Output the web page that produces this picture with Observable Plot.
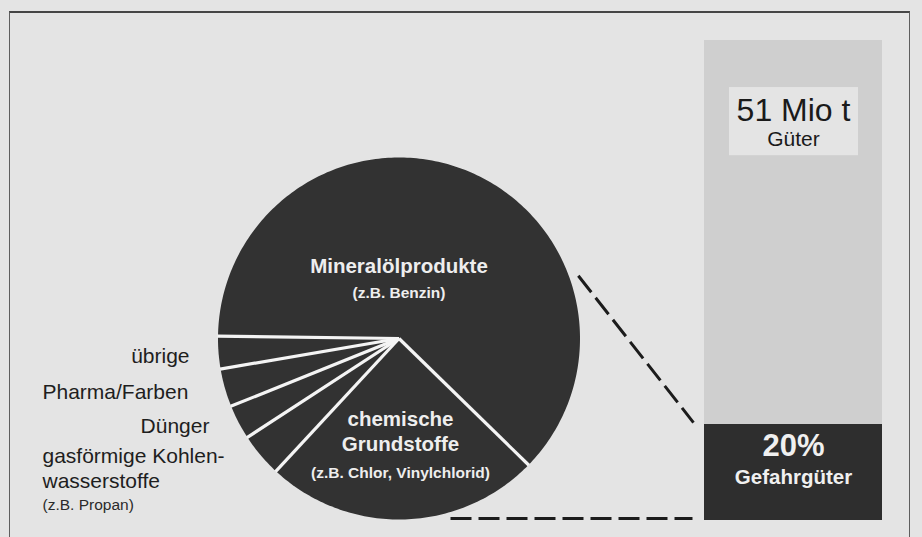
<!DOCTYPE html>
<html><head><meta charset="utf-8">
<script src="https://cdn.jsdelivr.net/npm/d3@7"></script>
<script src="https://cdn.jsdelivr.net/npm/@observablehq/plot@0.6"></script>
<style>
html,body{margin:0;padding:0;background:#e4e4e4;}
#wrap{position:relative;width:922px;height:537px;overflow:hidden;background:#e4e4e4;}
#frame{position:absolute;left:9px;top:11px;width:899px;height:600px;border-top:2px solid #454545;border-left:1.5px solid #5e5e5e;border-right:1.5px solid #5e5e5e;}
#chart{position:absolute;left:0;top:0;}
</style></head><body>
<div id="wrap"><div id="frame"></div><div id="chart"></div></div>
<script>
// ---------- DATA ----------
const cargoCategories = ["chemische Grundstoffe", "gasförmige Kohlenwasserstoffe", "Dünger", "Pharma/Farben", "übrige", "Mineralölprodukte"];
const cargoShares = [24.6, 3.9, 3.1, 3.4, 2.9, 62.1];   // % der Gefahrgüter
const cargoLabels = ["chemische\nGrundstoffe", "gasförmige Kohlen-\nwasserstoffe", "Dünger", "Pharma/Farben", "übrige", "Mineralölprodukte"];
const cargoNotes  = ["(z.B. Chlor, Vinylchlorid)", "(z.B. Propan)", "", "", "", "(z.B. Benzin)"];
const goodsParts  = ["Gefahrgüter", "übrige Güter"];
const goodsShares = [20, 80];       // % of all goods
const goodsTotal  = 51;             // Mio t
const goodsUnit   = "Mio t";
const goodsTitle  = "Güter";

// ---------- LAYOUT (pixels) ----------
const PX = 4.8, BASE = 520;                     // 1 unit = 1 % of the bar
const ux = p => p / PX, uy = p => (BASE - p) / PX;
const pie = {cx: 398.5, cy: 338, r: 181, start: 44.3};
const bar = {x1: 704, x2: 882};
const outsideAlign = {"gasförmige Kohlenwasserstoffe": "start", "Dünger": "end", "Pharma/Farben": "start", "übrige": "end"};
const insideOffset = {"Mineralölprodukte": [0, -66, -41], "chemische Grundstoffe": [1.5, 112, 139]};
const font = "Liberation Sans, Arial, Helvetica, sans-serif";

// ---------- GEOMETRY ----------
let acc = pie.start;
const slices = cargoCategories.map((name, i) => {
  const a0 = acc, a1 = acc + cargoShares[i] * 3.6; acc = a1;
  return {name, share: cargoShares[i], a0, a1, mid: (a0 + a1) / 2, label: cargoLabels[i], note: cargoNotes[i]};
});
const rad = a => a * Math.PI / 180;
const pxPt = (a, rr) => [pie.cx + rr * Math.cos(rad(a)), pie.cy + rr * Math.sin(rad(a))];
const pt = (a, rr) => { const [x, y] = pxPt(a, rr); return {x: ux(x), y: uy(y)}; };

const piePts = slices.flatMap(s => {
  const n = Math.max(2, Math.ceil(s.a1 - s.a0));
  const pts = [{...pt(0, 0), name: s.name}];
  for (let k = 0; k <= n; k++) pts.push({...pt(s.a0 + (s.a1 - s.a0) * k / n, pie.r), name: s.name});
  pts.push({...pt(0, 0), name: s.name});
  return pts;
});
const separators = slices.map(s => ({x1: ux(pie.cx), y1: uy(pie.cy), ...(p => ({x2: p.x, y2: p.y}))(pt(s.a0, pie.r + 0.5))}));

const outside = slices.filter(s => outsideAlign[s.name]).map(s => {
  const [rx, ry] = pxPt(s.mid, pie.r);
  const align = outsideAlign[s.name];
  return {...s, align, x: ux(align === "end" ? rx - 29 : 42), y: uy(ry)};
});
const outsideSingleEnd = outside.filter(d => !d.label.includes("\n") && d.align === "end");
const outsideSingleStart = outside.filter(d => !d.label.includes("\n") && d.align === "start");
const outsideMulti = outside.filter(d => d.label.includes("\n"));

const inside = slices.filter(s => insideOffset[s.name]).map(s => {
  const [dx, dyT, dyN] = insideOffset[s.name];
  return {...s, x: ux(pie.cx + dx), yT: uy(pie.cy + dyT), yN: uy(pie.cy + dyN)};
});

const goods = goodsParts.map((part, i) => ({part, share: goodsShares[i]}));
const barMid = ux((bar.x1 + bar.x2) / 2);

const connectors = [
  {...(p => ({x1: p.x, y1: p.y}))(pt(340.7, pie.r + 9)), x2: ux(bar.x1 - 11), y2: goodsShares[0] + 0.4},
  {x1: ux(450), y1: 0.4, x2: ux(bar.x1 - 12), y2: 0.4}
];

const outsideStyle = {x: "x", y: "y", text: "label", lineAnchor: "middle", dy: 4, fontSize: 21, fill: "#1e1e1e", fontFamily: font};

const chart = Plot.plot({
  width: 922, height: 537, margin: 0,
  style: {background: "transparent", fontFamily: font},
  x: {domain: [0, 922 / PX], range: [0, 922], axis: null},
  y: {domain: [0, 100], range: [BASE, BASE - 100 * PX], axis: null},
  color: {domain: goodsParts, range: ["#2e2e2e", "#cfcfcf"]},
  marks: [
    // pie
    Plot.line(piePts, {x: "x", y: "y", z: "name", fill: "#323232", stroke: "none", curve: "linear"}),
    Plot.link(separators, {x1: "x1", y1: "y1", x2: "x2", y2: "y2", stroke: "#f4f4f4", strokeWidth: 3.2}),
    // inside labels
    Plot.text(inside, {x: "x", y: "yT", text: "label", lineAnchor: "bottom", lineHeight: 1.22, fontSize: 20.5, fontWeight: "bold", fill: "#eeeeee", fontFamily: font}),
    Plot.text(inside, {x: "x", y: "yN", text: "note", lineAnchor: "bottom", fontSize: 15.5, fontWeight: "bold", fill: "#eeeeee", fontFamily: font}),
    // outside labels
    Plot.text(outsideSingleEnd, {...outsideStyle, textAnchor: "end"}),
    Plot.text(outsideSingleStart, {...outsideStyle, textAnchor: "start"}),
    Plot.text(outsideMulti, {x: "x", y: "y", text: "label", textAnchor: "start", lineAnchor: "top", dy: -10, lineHeight: 1.19, fontSize: 21, fill: "#1e1e1e", fontFamily: font}),
    Plot.text(outsideMulti, {x: "x", y: "y", text: "note", textAnchor: "start", lineAnchor: "bottom", dy: 55, fontSize: 15.5, fill: "#2a2a2a", fontFamily: font}),
    // bar
    Plot.rectY(goods, {x1: ux(bar.x1), x2: ux(bar.x2), y: "share", fill: "part"}),
    Plot.rect([goodsTotal], {x1: ux(729), x2: ux(858), y1: 76, y2: 90.2, fill: "#e4e4e4"}),
    Plot.text([goodsTotal], {x: barMid, y: 83.3, text: d => `${d} ${goodsUnit}`, lineAnchor: "bottom", fontSize: 32, fill: "#1a1a1a", fontFamily: font}),
    Plot.text([goodsTitle], {x: barMid, y: 78.1, text: d => d, lineAnchor: "bottom", fontSize: 21, fill: "#1a1a1a", fontFamily: font}),
    Plot.text([goods[0]], {x: barMid, y: 13.5, text: d => `${d.share}%`, lineAnchor: "bottom", fontSize: 31, fontWeight: "bold", fill: "#f0f0f0", fontFamily: font}),
    Plot.text([goods[0]], {x: barMid, y: 7.7, text: "part", lineAnchor: "bottom", fontSize: 20.5, fontWeight: "bold", fill: "#f0f0f0", fontFamily: font}),
    // dashed connectors
    Plot.link(connectors, {x1: "x1", y1: "y1", x2: "x2", y2: "y2", stroke: "#1c1c1c", strokeWidth: 3, strokeDasharray: "21,7"})
  ]
});
document.getElementById("chart").appendChild(chart);
</script>
</body></html>
